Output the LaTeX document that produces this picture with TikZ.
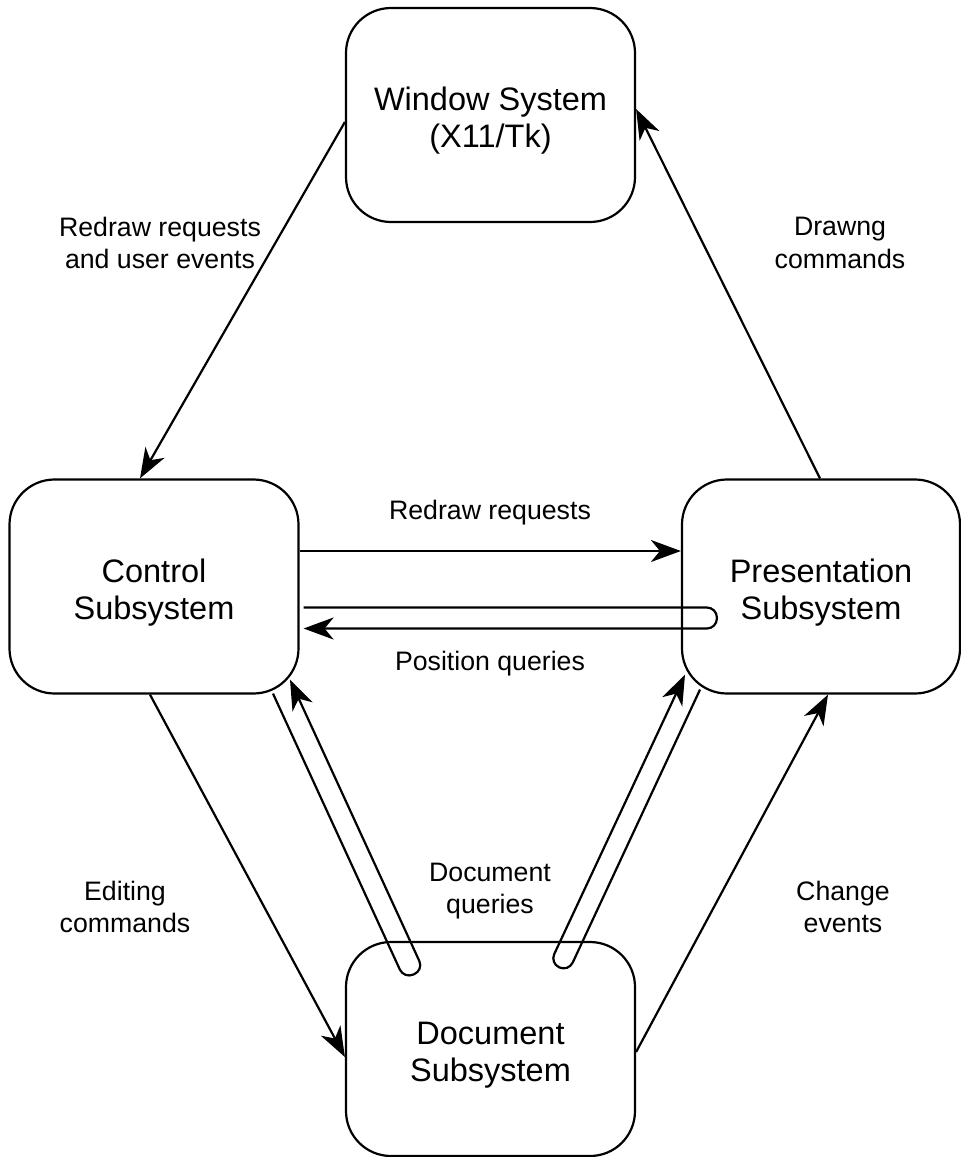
\documentclass[tikz,border=0pt]{standalone}
\usepackage{fontspec}
\setmainfont{Liberation Sans}
\usetikzlibrary{arrows.meta,calc}

\tikzset{
  subsys/.style={draw, line width=2.2pt, rounded corners=45pt, minimum width=289pt,
    minimum height=214pt, inner sep=0pt},
  subsystext/.style={align=center, inner sep=0pt, font=\fontsize{32.5}{37}\selectfont},
  flowlabel/.style={align=center, inner sep=0pt, font=\fontsize{26.7}{32.5}\selectfont},
  flow/.style={line width=2.2pt, -{Stealth[length=30pt,width=22pt,inset=9pt]}},
  loopflow/.style={flow, rounded corners=10pt},
}

\begin{document}
\begin{tikzpicture}[x=1pt,y=-1pt]
  \useasboundingbox (0,0) rectangle (961,1157);

  % subsystems
  \node[subsys] (win)  at (490.5,115)  {};
  \node[subsys] (ctl)  at (154,586.5)  {};
  \node[subsys, minimum width=278pt] (pres) at (821,586.5) {};
  \node[subsys] (doc)  at (490.5,1049) {};

  \node[subsystext] (wintext)  at ($(win)+(0,6)$)  {Window System\\(X11/Tk)};
  \node[subsystext] (ctltext)  at ($(ctl)+(0,6)$)  {Control\\Subsystem};
  \node[subsystext] (prestext) at ($(pres)+(0,6)$) {Presentation\\Subsystem};
  \node[subsystext] (doctext)  at ($(doc)+(0,6)$)  {Document\\Subsystem};

  % window system <-> control / presentation
  \draw[flow] ($(win.west)+(0,7)$) -- ($(ctl.north)+(-14,0)$);
  \draw[flow] ($(pres.north)+(-1,0)$) -- ($(win.east)+(0,-6)$);

  % control <-> presentation
  \draw[flow] ($(ctl.east)+(0,-35.5)$) -- ($(pres.west)+(0,-35.5)$);
  \draw[loopflow] ($(ctl.east)+(4,21)$) -- ($(pres.west)+(36,21)$)
    -- ($(pres.west)+(36,42)$) -- ($(ctl.east)+(4,42)$);

  % control <-> document
  \draw[flow] ($(ctl.south)+(-4,0)$) -- ($(doc.west)+(0,8)$);
  \draw[loopflow] ($(ctl.south)+(119,-1)$) -- ($(ctl.south)+(250,284)$)
    -- ($(ctl.south)+(269.5,275.5)$) -- ($(ctl.south)+(136,-15)$);

  % presentation <-> document
  \draw[flow] ($(doc.east)+(0,3)$) -- ($(pres.south)+(7,0)$);
  \draw[loopflow] ($(pres.south)+(-121,-5)$) -- ($(pres.south)+(-252.5,277)$)
    -- ($(pres.south)+(-271,268.5)$) -- ($(pres.south)+(-136,-20)$);

  % flow labels
  \node[flowlabel] (lredraw)  at (160,243) {Redraw requests\\and user events};
  \node[flowlabel] (ldraw)    at (840,243) {Drawng\\commands};
  \node[flowlabel] (lreq)     at (490,513) {Redraw requests};
  \node[flowlabel] (lpos)     at (490,664) {Position queries};
  \node[flowlabel] (ledit)    at (125,907) {Editing\\commands};
  \node[flowlabel] (lquery)   at (490,891) {Document\\queries};
  \node[flowlabel] (lchange)  at (843,907) {Change\\events};
\end{tikzpicture}
\end{document}
